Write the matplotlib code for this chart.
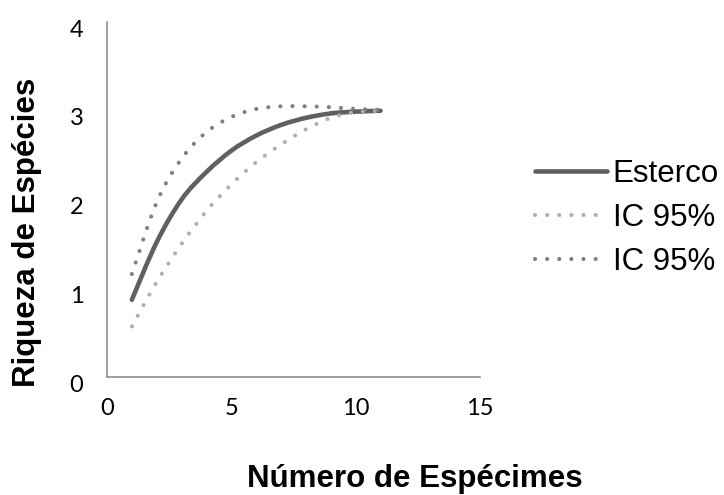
import matplotlib
matplotlib.use('Agg')
import matplotlib.pyplot as plt
from matplotlib.lines import Line2D
from matplotlib.patches import PathPatch
from matplotlib.path import Path
from matplotlib.transforms import ScaledTranslation

# rarefaction curve
especimes = [1, 2, 3, 4, 5, 6, 7, 8, 9, 10, 11]
esterco = [0.87, 1.52, 2.00, 2.31, 2.55, 2.72, 2.84, 2.92, 2.97, 2.99, 3.00]
ic_inferior = [0.57, 1.07, 1.50, 1.87, 2.17, 2.42, 2.62, 2.79, 2.92, 2.985, 3.00]
ic_superior = [1.16, 1.97, 2.46, 2.76, 2.93, 3.02, 3.05, 3.05, 3.04, 3.02, 3.01]

x_ticks = [0, 5, 10, 15]
y_ticks = [0, 1, 2, 3, 4]


def smooth_path(xs, ys):
    # Excel style "smoothed line": cubic bezier through the data points
    verts = [(xs[0], ys[0])]
    codes = [Path.MOVETO]
    n = len(xs)
    for i in range(n - 1):
        x0, y0 = xs[max(i - 1, 0)], ys[max(i - 1, 0)]
        x1, y1 = xs[i], ys[i]
        x2, y2 = xs[i + 1], ys[i + 1]
        x3, y3 = xs[min(i + 2, n - 1)], ys[min(i + 2, n - 1)]
        verts += [(x1 + (x2 - x0) / 6, y1 + (y2 - y0) / 6),
                  (x2 - (x3 - x1) / 6, y2 - (y3 - y1) / 6),
                  (x2, y2)]
        codes += [Path.CURVE4] * 3
    return Path(verts, codes)


fig = plt.figure(figsize=(7.24, 4.95), dpi=100)
ax = fig.add_axes([107 / 724, 1 - 377 / 495, 373 / 724, 355 / 495])

styles = [
    (esterco, 'Esterco', dict(color='#606060', lw=3.3, ls='-')),
    (ic_inferior, 'IC 95%', dict(color='#b0b0b0', lw=3.0, ls=(0, (0.01, 2.9)))),
    (ic_superior, 'IC 95%', dict(color='#808080', lw=3.0, ls=(0, (0.01, 2.9)))),
]
handles = []
for ys, label, st in styles:
    patch = PathPatch(smooth_path(especimes, ys), fill=False, edgecolor=st['color'],
                      lw=st['lw'], ls=st['ls'], capstyle='round', joinstyle='round')
    ax.add_patch(patch)
    handles.append(Line2D([], [], color=st['color'], lw=st['lw'], ls=st['ls'],
                          dash_capstyle='round', solid_capstyle='round', label=label))

ax.set_xlim(0, 15)
ax.set_ylim(0, 4)
ax.set_xticks(x_ticks)
ax.set_yticks(y_ticks)
for s in ['top', 'right']:
    ax.spines[s].set_visible(False)
for s in ['left', 'bottom']:
    ax.spines[s].set_color('#868686')
    ax.spines[s].set_linewidth(1.1)
ax.tick_params(length=0, labelsize=17, colors='#000000')
ax.tick_params(axis='x', pad=15)
ax.tick_params(axis='y', pad=17)
for lab in ax.get_xticklabels() + ax.get_yticklabels():
    lab.set_fontfamily('Lato')
# Excel sets the value labels a bit low
for lab in ax.get_yticklabels():
    lab.set_transform(lab.get_transform() + ScaledTranslation(0, -6 / 100, fig.dpi_scale_trans))

fig.text(27 / 724, 1 - 232 / 495, 'Riqueza de Espécies', rotation=90,
         ha='center', va='center', fontsize=22.5, fontweight='bold',
         family='Liberation Sans')
fig.text(414.5 / 724, 1 - 487 / 495, 'Número de Espécimes', ha='center',
         va='baseline', fontsize=22.5, fontweight='bold', family='Liberation Sans')

fig.legend(handles=handles, loc='center left', bbox_to_anchor=(535 / 724, 1 - 218 / 495),
           frameon=False, borderpad=0, borderaxespad=0, handlelength=2.3,
           handletextpad=0.19, labelspacing=0.45,
           prop={'family': 'Liberation Sans', 'size': 22.5})

fig.savefig('out.png', dpi=100)
